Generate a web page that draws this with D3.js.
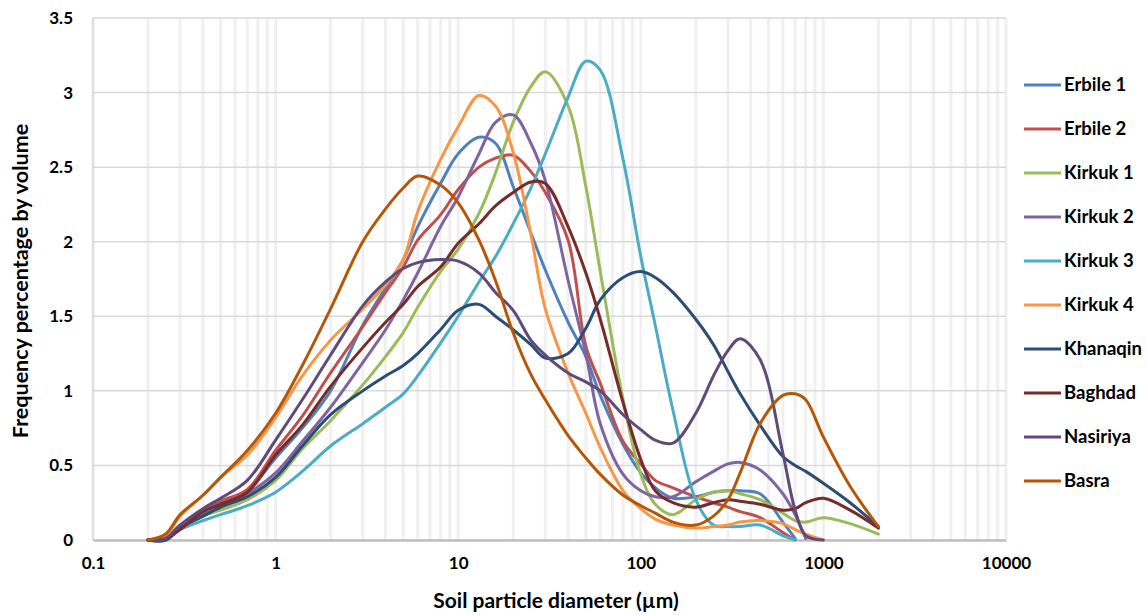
<!DOCTYPE html>
<html><head><meta charset="utf-8">
<script src="https://cdn.jsdelivr.net/npm/d3@7"></script>
<style>
body{margin:0;background:#fff}
svg text{font-family:Lato,"Liberation Sans",sans-serif;font-weight:bold;fill:#000}
</style>
</head><body>
<svg id="chart" width="1146" height="615"></svg>
<script>
// particle sizes (µm)
const sizes = [0.2,0.25,0.3,0.4,0.5,0.7,1,1.4,2,3,4,5,6,8,10,13,16,20,25,30,40,50,60,80,100,120,150,200,250,300,350,450,600,700,800,1000,1400,2000];

const seriesNames = ["Erbile 1","Erbile 2","Kirkuk 1","Kirkuk 2","Kirkuk 3","Kirkuk 4","Khanaqin","Baghdad","Nasiriya","Basra"];
const seriesColors = ["#4F81BD","#C0504D","#9BBB59","#8064A2","#4BACC6","#F79646","#2C4D75","#772C2A","#5F4A7B","#B65708"];

const erbile1  = [0,0.01,0.10,0.18,0.24,0.33,0.55,0.75,1.00,1.44,1.69,1.88,2.10,2.39,2.59,2.70,2.66,2.37,2.06,1.81,1.46,1.23,0.97,0.64,0.45,0.35,0.28,0.29,0.32,0.33,0.33,0.31,0.12,0.01,null,null,null,null];
const erbile2  = [0,0.01,0.09,0.19,0.26,0.34,0.60,0.83,1.12,1.43,1.66,1.83,2.01,2.18,2.35,2.50,2.56,2.58,2.47,2.33,2.01,1.30,1.05,0.66,0.51,0.40,0.35,0.29,0.25,0.22,0.19,0.15,0.05,0.00,null,null,null,null];
const kirkuk1  = [0,0.00,0.08,0.16,0.20,0.27,0.40,0.61,0.80,1.04,1.23,1.39,1.56,1.80,1.95,2.19,2.46,2.80,3.04,3.14,2.91,2.37,1.80,0.94,0.44,0.24,0.17,0.27,0.32,0.33,0.31,0.27,0.18,0.13,0.12,0.15,0.11,0.04];
const kirkuk2  = [0,0.00,0.08,0.16,0.22,0.31,0.45,0.66,0.89,1.19,1.41,1.61,1.79,2.10,2.30,2.59,2.80,2.85,2.66,2.41,1.74,1.25,0.78,0.44,0.33,0.29,0.29,0.39,0.46,0.51,0.52,0.47,0.31,0.17,0.01,null,null,null];
const kirkuk3  = [0,0.00,0.07,0.13,0.17,0.23,0.32,0.46,0.63,0.78,0.89,0.98,1.10,1.32,1.50,1.73,1.90,2.12,2.36,2.59,2.97,3.21,3.15,2.55,1.90,1.44,0.87,0.27,0.10,0.09,0.09,0.10,0.03,0.00,null,null,null,null];
const kirkuk4  = [0,0.03,0.16,0.30,0.42,0.57,0.82,1.10,1.34,1.55,1.71,1.88,2.20,2.55,2.77,2.98,2.91,2.60,2.05,1.55,1.12,0.85,0.62,0.33,0.21,0.14,0.10,0.08,0.09,0.10,0.12,0.13,0.11,0.07,0.04,0.00,null,null];
const khanaqin = [0,0.00,0.08,0.16,0.22,0.29,0.42,0.63,0.84,1.00,1.10,1.17,1.25,1.41,1.54,1.58,1.50,1.41,1.31,1.22,1.25,1.42,1.61,1.76,1.80,1.76,1.66,1.48,1.31,1.13,0.98,0.77,0.56,0.50,0.46,0.38,0.25,0.09];
const baghdad  = [0,0.01,0.07,0.19,0.24,0.32,0.57,0.77,1.03,1.29,1.46,1.58,1.70,1.83,1.99,2.12,2.24,2.33,2.40,2.39,2.10,1.79,1.48,0.92,0.54,0.33,0.25,0.22,0.25,0.27,0.26,0.24,0.20,0.21,0.25,0.28,0.20,0.08];
const nasiriya = [0,0.01,0.10,0.21,0.28,0.40,0.67,0.94,1.24,1.57,1.73,1.82,1.86,1.88,1.87,1.79,1.66,1.54,1.34,1.24,1.12,1.06,1.00,0.84,0.74,0.67,0.65,0.85,1.10,1.27,1.35,1.21,0.58,0.20,0.03,0.00,null,null];
const basra    = [0,0.04,0.17,0.30,0.42,0.60,0.85,1.17,1.55,2.00,2.22,2.36,2.44,2.38,2.26,2.01,1.74,1.39,1.11,0.94,0.70,0.55,0.44,0.30,0.23,0.18,0.12,0.10,0.16,0.27,0.45,0.78,0.97,0.98,0.94,0.69,0.36,0.09];

const xTickValues = [0.1,1,10,100,1000,10000];
const yTickValues = [0,0.5,1,1.5,2,2.5,3,3.5];

const seriesValues = [erbile1,erbile2,kirkuk1,kirkuk2,kirkuk3,kirkuk4,khanaqin,baghdad,nasiriya,basra];

const svg = d3.select("#chart");
const x = d3.scaleLog().domain([0.1,10000]).range([93,1006]);
const y = d3.scaleLinear().domain([0,3.5]).range([540,18]);

// vertical gridlines (log minor)
const minor = x.ticks(60);
svg.append("g").selectAll("line").data(minor).join("line")
  .attr("x1",d=>x(d)).attr("x2",d=>x(d)).attr("y1",y(3.5)).attr("y2",y(0))
  .attr("stroke","#f0f0f0").attr("stroke-width",3);
// horizontal gridlines
svg.append("g").selectAll("line").data(yTickValues).join("line")
  .attr("x1",x(0.1)).attr("x2",x(10000)).attr("y1",d=>y(d)).attr("y2",d=>y(d))
  .attr("stroke","#d9d9d9").attr("stroke-width",1.5);
// left edge
svg.append("line").attr("x1",x(0.1)).attr("x2",x(0.1)).attr("y1",y(3.5)).attr("y2",y(0))
  .attr("stroke","#d9d9d9").attr("stroke-width",1.5);

// x axis
const xAxis = svg.append("g").attr("transform",`translate(0,${y(0)})`)
  .call(d3.axisBottom(x).tickValues(xTickValues).tickFormat(d=>String(d)).tickSize(0).tickPadding(17));
xAxis.select(".domain").attr("stroke","#bfbfbf").attr("stroke-width",2.5);
xAxis.selectAll("text").style("font-size","17px");

// y axis
const yAxis = svg.append("g").attr("transform",`translate(${x(0.1)},0)`)
  .call(d3.axisLeft(y).tickValues(yTickValues).tickFormat(d=>String(d)).tickSize(0).tickPadding(20));
yAxis.select(".domain").remove();
yAxis.selectAll("text").style("font-size","17px");

// lines
const line = d3.line()
  .x(d=>x(d[0])).y(d=>y(d[1]))
  .curve(d3.curveCatmullRom.alpha(0.5));

seriesValues.forEach((vals,i)=>{
  svg.append("path")
    .datum(sizes.map((s,j)=>[s,vals[j]]).filter(d=>d[1]!==null))
    .attr("d",line).attr("fill","none")
    .attr("stroke",seriesColors[i]).attr("stroke-width",3)
    .attr("stroke-linejoin","round").attr("stroke-linecap","round");
});

// axis titles
svg.append("text").attr("x",556).attr("y",608).attr("text-anchor","middle")
  .style("font-size","21px").text("Soil particle diameter (µm)");
svg.append("text").attr("transform","translate(28,281) rotate(-90)").attr("text-anchor","middle")
  .style("font-size","21.5px").text("Frequency percentage by volume");

// legend
const leg = svg.append("g");
seriesNames.forEach((n,i)=>{
  const yy = 85 + i*44;
  leg.append("line").attr("x1",1024).attr("x2",1061).attr("y1",yy).attr("y2",yy)
    .attr("stroke",seriesColors[i]).attr("stroke-width",3);
  leg.append("text").attr("x",1064).attr("y",yy).attr("dy","0.35em")
    .style("font-size","18.5px").text(n);
});
</script>
</body></html>
